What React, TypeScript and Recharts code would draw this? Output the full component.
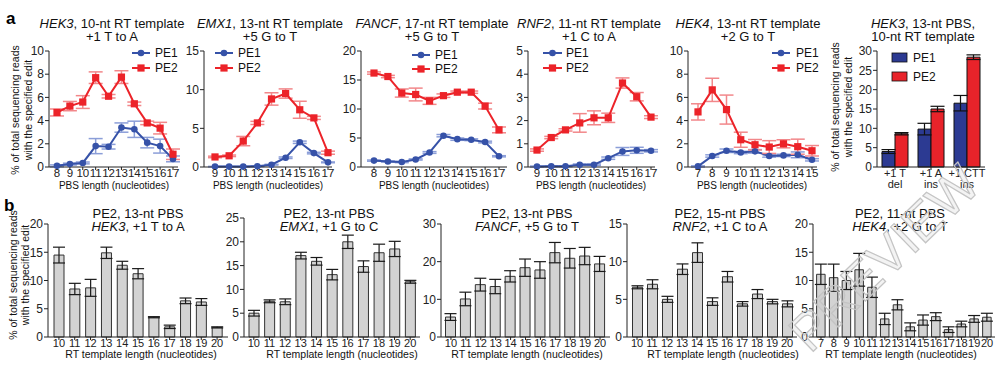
import React from 'react';
import { LineChart, Line, BarChart, Bar, XAxis, YAxis, ErrorBar } from 'recharts';

const FONT = '"Liberation Sans", Arial, Helvetica, sans-serif';
const AX = '#222';
const BLUE = '#3652a8';
const RED = '#ec2329';
const BLUE_ERR = '#8b9ed8';
const RED_ERR = '#f2878a';
const BLUE_BAR = '#2c3a92';
const RED_BAR = '#e8232a';
const GREY = '#d3d3d3';

// ---------- Panel a: PBS length series ----------
const hek3PBS = [8, 9, 10, 11, 12, 13, 14, 15, 16, 17];
const hek3PE1 = [0.1, 0.25, 0.35, 1.8, 1.75, 3.4, 3.25, 2.1, 1.8, 0.7];
const hek3PE1Err = [0.08, 0.08, 0.08, 0.65, 0.2, 0.4, 0.7, 0.45, 0.6, 0.25];
const hek3PE2 = [4.7, 5.25, 5.6, 7.7, 6.1, 7.75, 5.45, 3.8, 3.35, 1.1];
const hek3PE2Err = [0.3, 0.4, 0.55, 0.5, 0.15, 0.55, 0.15, 0.15, 0.5, 0.45];

const emx1PBS = [9, 10, 11, 12, 13, 14, 15, 16, 17];
const emx1PE1 = [0.05, 0.05, 0.05, 0.1, 0.3, 1.2, 3.2, 1.8, 0.6];
const emx1PE1Err = [0.03, 0.03, 0.03, 0.05, 0.05, 0.1, 0.15, 0.1, 0.05];
const emx1PE2 = [1.3, 1.45, 3.35, 5.7, 8.8, 9.5, 7.4, 6.35, 1.85];
const emx1PE2Err = [0.1, 0.1, 0.6, 0.2, 0.8, 0.6, 1.1, 0.2, 0.2];

const fancfPBS = [8, 9, 10, 11, 12, 13, 14, 15, 16, 17];
const fancfPE1 = [1.1, 0.95, 0.85, 1.3, 2.5, 5.4, 4.8, 4.7, 4.3, 1.85];
const fancfPE1Err = [0.1, 0.1, 0.1, 0.1, 0.15, 0.2, 0.2, 0.15, 0.15, 0.1];
const fancfPE2 = [16.2, 15.6, 12.75, 12.5, 11.4, 12.3, 12.9, 12.9, 10.5, 6.4];
const fancfPE2Err = [0.2, 0.2, 0.7, 1.1, 0.6, 0.3, 0.2, 0.2, 0.5, 0.5];

const rnf2PBS = [9, 10, 11, 12, 13, 14, 15, 16, 17];
const rnf2PE1 = [0.02, 0.03, 0.03, 0.1, 0.1, 0.38, 0.67, 0.72, 0.7];
const rnf2PE1Err = [0.02, 0.02, 0.02, 0.03, 0.03, 0.05, 0.17, 0.13, 0.05];
const rnf2PE2 = [0.73, 1.27, 1.6, 1.9, 2.12, 2.12, 3.62, 3.03, 2.15];
const rnf2PE2Err = [0.05, 0.05, 0.05, 0.4, 0.3, 0.2, 0.22, 0.18, 0.06];

const hek4PBS = [7, 8, 9, 10, 11, 12, 13, 14, 15];
const hek4PE1 = [0.05, 0.95, 1.4, 1.25, 1.35, 0.95, 1.0, 1.05, 0.62];
const hek4PE1Err = [0.05, 0.1, 0.15, 0.1, 0.15, 0.1, 0.1, 0.25, 0.1];
const hek4PE2 = [4.75, 6.65, 4.95, 2.35, 1.92, 1.72, 2.0, 1.75, 1.4];
const hek4PE2Err = [0.7, 1.0, 1.25, 0.65, 0.45, 0.55, 0.35, 0.65, 0.45];

// ---------- Panel a: insertion / deletion bars ----------
const indelLine1 = ['+1 T', '+1 A', '+1 CTT'];
const indelLine2 = ['del', 'ins', 'ins'];
const indelPE1 = [4.0, 9.8, 16.5];
const indelPE1Err = [0.5, 1.5, 2.0];
const indelPE2 = [8.6, 15.0, 28.4];
const indelPE2Err = [0.3, 0.7, 0.6];

// ---------- Panel b: RT template length ----------
const rt10to20 = [10, 11, 12, 13, 14, 15, 16, 17, 18, 19, 20];
const bHek3 = [14.5, 8.5, 8.7, 14.9, 12.7, 11.2, 3.5, 1.8, 6.4, 6.2, 1.7];
const bHek3Err = [1.4, 1.0, 1.5, 1.0, 0.7, 0.9, 0.1, 0.3, 0.5, 0.6, 0.1];
const bEmx1 = [5.0, 7.5, 7.4, 17.1, 15.9, 13.1, 20.0, 14.8, 17.7, 18.5, 11.6];
const bEmx1Err = [0.6, 0.3, 0.6, 0.7, 0.8, 1.1, 1.4, 1.2, 1.8, 1.6, 0.3];
const bFancf = [5.3, 10.1, 13.9, 13.4, 16.1, 18.4, 17.8, 22.4, 20.9, 21.5, 19.4];
const bFancfErr = [0.9, 1.8, 1.7, 1.9, 1.5, 2.3, 2.2, 2.7, 2.6, 2.3, 2.0];
const bRnf2 = [6.6, 7.0, 5.0, 9.0, 11.2, 4.7, 8.0, 4.4, 5.7, 4.7, 4.4];
const bRnf2Err = [0.2, 0.6, 0.4, 0.7, 1.3, 0.5, 0.7, 0.3, 0.6, 0.3, 0.4];
const rt7to20 = [7, 8, 9, 10, 11, 12, 13, 14, 15, 16, 17, 18, 19, 20];
const bHek4 = [11.1, 10.5, 10.0, 11.9, 8.8, 3.2, 5.7, 1.8, 3.0, 3.6, 1.3, 2.3, 3.2, 3.5];
const bHek4Err = [1.8, 2.4, 1.6, 2.9, 1.8, 1.0, 0.9, 0.7, 0.9, 0.7, 0.5, 0.5, 0.6, 0.7];

function lineRows(xs: number[], p1: number[], e1: number[], p2: number[], e2: number[]) {
  return xs.map((x, i) => ({ x: String(x), pe1: p1[i], pe1Err: e1[i], pe2: p2[i], pe2Err: e2[i] }));
}
function barRows(xs: number[], v: number[], e: number[]) {
  return xs.map((x, i) => ({ x: String(x), v: v[i], err: e[i] }));
}
const indelRows = indelLine1.map((l, i) => ({
  x: l + '\n' + indelLine2[i],
  pe1: indelPE1[i],
  pe1Err: indelPE1Err[i],
  pe2: indelPE2[i],
  pe2Err: indelPE2Err[i],
}));

const circleDot = (p: any) => {
  if (p.cx == null || p.cy == null) return <g key={'c' + p.index} />;
  return <circle key={'c' + p.index} cx={p.cx} cy={p.cy} r={3.3} fill={BLUE} />;
};
const squareDot = (p: any) => {
  if (p.cx == null || p.cy == null) return <g key={'s' + p.index} />;
  return <rect key={'s' + p.index} x={p.cx - 3.6} y={p.cy - 3.6} width={7.2} height={7.2} fill={RED} />;
};

const axisProps = {
  axisLine: { stroke: AX, strokeWidth: 1 },
  tickLine: { stroke: AX, strokeWidth: 1 },
};
const yTickStyle = { fontSize: 12, fill: AX, fontFamily: FONT };
const xTickTop = { fontSize: 11.5, fill: AX, fontFamily: FONT };
const xTickBottom = { fontSize: 11, fill: AX, fontFamily: FONT };

type LP = { px: number; py: number; pw: number; ph: number; padL: number; padR: number; yMax: number; yTicks: number[]; data: any[] };
function LinePanel({ px, py, pw, ph, padL, padR, yMax, yTicks, data }: LP) {
  return (
    <div style={{ position: 'absolute', left: px - 40, top: py - 10 }}>
      <LineChart width={pw + 50} height={ph + 40} data={data} margin={{ top: 10, right: 10, left: 0, bottom: 0 }}>
        <XAxis dataKey="x" interval={0} padding={{ left: padL, right: padR }} height={30} tickSize={3} tickMargin={-1} tick={xTickTop} {...axisProps} />
        <YAxis type="number" domain={[0, yMax]} ticks={yTicks} interval={0} width={40} tickSize={4} tickMargin={1} tick={yTickStyle} {...axisProps} />
        <Line dataKey="pe1" stroke={BLUE} strokeWidth={2} dot={circleDot} activeDot={false} isAnimationActive={false}>
          <ErrorBar dataKey="pe1Err" width={7} stroke={BLUE_ERR} strokeWidth={1.5} direction="y" isAnimationActive={false} />
        </Line>
        <Line dataKey="pe2" stroke={RED} strokeWidth={2} dot={squareDot} activeDot={false} isAnimationActive={false}>
          <ErrorBar dataKey="pe2Err" width={7} stroke={RED_ERR} strokeWidth={1.5} direction="y" isAnimationActive={false} />
        </Line>
      </LineChart>
    </div>
  );
}

type BP = { px: number; py: number; pw: number; ph: number; pad: number; yMax: number; yTicks: number[]; data: any[]; barSize: number };
function BarPanel({ px, py, pw, ph, pad, yMax, yTicks, data, barSize }: BP) {
  return (
    <div style={{ position: 'absolute', left: px - 40, top: py - 10 }}>
      <BarChart width={pw + 50} height={ph + 40} data={data} margin={{ top: 10, right: 10, left: 0, bottom: 0 }} barCategoryGap={0}>
        <XAxis dataKey="x" interval={0} padding={{ left: pad, right: pad }} height={30} tickSize={3} tickMargin={-1} tick={xTickBottom} {...axisProps} />
        <YAxis type="number" domain={[0, yMax]} ticks={yTicks} interval={0} width={40} tickSize={4} tickMargin={1} tick={yTickStyle} {...axisProps} />
        <Bar dataKey="v" fill={GREY} stroke="#333" strokeWidth={1} barSize={barSize} isAnimationActive={false}>
          <ErrorBar dataKey="err" width={6} stroke="#1a1a1a" strokeWidth={1.2} direction="y" isAnimationActive={false} />
        </Bar>
      </BarChart>
    </div>
  );
}

const GroupTick = (p: any) => {
  const [l1, l2] = String(p.payload.value).split('\n');
  return (
    <g transform={`translate(${p.x},${p.y})`}>
      <text textAnchor="middle" fontSize={11} fill={AX} fontFamily={FONT}>
        <tspan x={0} dy={7}>{l1}</tspan>
        <tspan x={0} dy={10.5}>{l2}</tspan>
      </text>
    </g>
  );
};

function IndelPanel() {
  const px = 877, py = 51, pw = 108, ph = 116;
  return (
    <div style={{ position: 'absolute', left: px - 40, top: py - 10 }}>
      <BarChart width={pw + 50} height={ph + 40} data={indelRows} margin={{ top: 10, right: 10, left: 0, bottom: 0 }} barGap={0}>
        <XAxis dataKey="x" interval={0} height={30} tickSize={3} tickMargin={0} tick={<GroupTick />} {...axisProps} />
        <YAxis type="number" domain={[0, 30]} ticks={[0, 5, 10, 15, 20, 25, 30]} interval={0} width={40} tickSize={4} tickMargin={1} tick={yTickStyle} {...axisProps} />
        <Bar dataKey="pe1" fill={BLUE_BAR} stroke="#111" strokeWidth={1} barSize={13} isAnimationActive={false}>
          <ErrorBar dataKey="pe1Err" width={7} stroke="#111" strokeWidth={1.2} direction="y" isAnimationActive={false} />
        </Bar>
        <Bar dataKey="pe2" fill={RED_BAR} stroke="#111" strokeWidth={1} barSize={13} isAnimationActive={false}>
          <ErrorBar dataKey="pe2Err" width={7} stroke="#111" strokeWidth={1.2} direction="y" isAnimationActive={false} />
        </Bar>
      </BarChart>
    </div>
  );
}

function Title2({ cx, y1, gene, rest1, line2, geneOnLine2 }: { cx: number; y1: number; gene?: string; rest1: string; line2: string; geneOnLine2?: string }) {
  return (
    <g fontFamily={FONT} fontSize={13} fill="#111" textAnchor="middle">
      <text x={cx} y={y1} dominantBaseline="central">
        {gene ? <tspan fontStyle="italic">{gene}</tspan> : null}
        {rest1}
      </text>
      <text x={cx} y={y1 + 13} dominantBaseline="central">
        {geneOnLine2 ? <tspan fontStyle="italic">{geneOnLine2}</tspan> : null}
        {line2}
      </text>
    </g>
  );
}

function YLabel({ x1, x2, cy }: { x1: number; x2: number; cy: number }) {
  return (
    <g fontFamily={FONT} fontSize={10.5} fill="#111" textAnchor="middle">
      <text transform={`translate(${x1},${cy}) rotate(-90)`} dominantBaseline="central">% of total sequencing reads</text>
      <text transform={`translate(${x2},${cy}) rotate(-90)`} dominantBaseline="central">with the specified edit</text>
    </g>
  );
}

function LineLegend({ x1, x2, tx, y1, y2 }: { x1: number; x2: number; tx: number; y1: number; y2: number }) {
  const m = (x1 + x2) / 2;
  return (
    <g fontFamily={FONT} fontSize={12} fill="#111">
      <line x1={x1} x2={x2} y1={y1} y2={y1} stroke={BLUE} strokeWidth={2} />
      <circle cx={m} cy={y1} r={3.3} fill={BLUE} />
      <text x={tx} y={y1} dominantBaseline="central">PE1</text>
      <line x1={x1} x2={x2} y1={y2} y2={y2} stroke={RED} strokeWidth={2} />
      <rect x={m - 3.6} y={y2 - 3.6} width={7.2} height={7.2} fill={RED} />
      <text x={tx} y={y2} dominantBaseline="central">PE2</text>
    </g>
  );
}

function Overlay() {
  return (
    <svg width={1004} height={367} style={{ position: 'absolute', left: 0, top: 0, pointerEvents: 'none' }}>
      <text x={6} y={18} fontFamily={FONT} fontWeight="bold" fontSize={17} dominantBaseline="central" fill="#000">a</text>
      <text x={4} y={205} fontFamily={FONT} fontWeight="bold" fontSize={17} dominantBaseline="central" fill="#000">b</text>

      <Title2 cx={112} y1={23} gene="HEK3" rest1=", 10-nt RT template" line2="+1 T to A" />
      <Title2 cx={270} y1={23} gene="EMX1" rest1=", 13-nt RT template" line2="+5 G to T" />
      <Title2 cx={432} y1={23} gene="FANCF" rest1=", 17-nt RT template" line2="+5 G to T" />
      <Title2 cx={589} y1={23} gene="RNF2" rest1=", 11-nt RT template" line2="+1 C to A" />
      <Title2 cx={748} y1={23} gene="HEK4" rest1=", 13-nt RT template" line2="+2 G to T" />
      <Title2 cx={923} y1={23} gene="HEK3" rest1=", 13-nt PBS," line2="10-nt RT template" />

      <g fontFamily={FONT} fontSize={10} fill="#111" textAnchor="middle">
        <text x={114} y={185.5} dominantBaseline="central">PBS length (nucleotides)</text>
        <text x={268} y={185.5} dominantBaseline="central">PBS length (nucleotides)</text>
        <text x={434} y={185.5} dominantBaseline="central">PBS length (nucleotides)</text>
        <text x={591} y={185.5} dominantBaseline="central">PBS length (nucleotides)</text>
        <text x={752} y={185.5} dominantBaseline="central">PBS length (nucleotides)</text>
      </g>

      <YLabel x1={15} x2={28} cy={110} />
      <YLabel x1={835} x2={848} cy={107} />
      <YLabel x1={13} x2={25} cy={275} />

      <LineLegend x1={132} x2={150} tx={155} y1={53} y2={68} />
      <LineLegend x1={215} x2={233} tx={238} y1={53} y2={68} />
      <LineLegend x1={412} x2={430} tx={435} y1={55} y2={69} />
      <LineLegend x1={543} x2={562} tx={566} y1={53} y2={68} />
      <LineLegend x1={772} x2={790} tx={796} y1={53} y2={68} />

      <g fontFamily={FONT} fontSize={12} fill="#111">
        <rect x={892} y={53} width={15} height={9} fill={BLUE_BAR} stroke="#111" strokeWidth={0.8} />
        <text x={913} y={57.5} dominantBaseline="central">PE1</text>
        <rect x={892} y={72} width={15} height={9} fill={RED_BAR} stroke="#111" strokeWidth={0.8} />
        <text x={913} y={76.5} dominantBaseline="central">PE2</text>
      </g>

      <Title2 cx={138} y1={213} rest1="PE2, 13-nt PBS" geneOnLine2="HEK3" line2=", +1 T to A" />
      <Title2 cx={329} y1={213} rest1="PE2, 13-nt PBS" geneOnLine2="EMX1" line2=", +1 G to C" />
      <Title2 cx={527} y1={213} rest1="PE2, 13-nt PBS" geneOnLine2="FANCF" line2=", +5 G to T" />
      <Title2 cx={720} y1={213} rest1="PE2, 15-nt PBS" geneOnLine2="RNF2" line2=", +1 C to A" />
      <Title2 cx={900} y1={213} rest1="PE2, 11-nt PBS" geneOnLine2="HEK4" line2=", +2 G to T" />

      <g fontFamily={FONT} fontSize={10.5} fill="#111" textAnchor="middle">
        <text x={141} y={354} dominantBaseline="central">RT template length (nucleotides)</text>
        <text x={342} y={354} dominantBaseline="central">RT template length (nucleotides)</text>
        <text x={527} y={354} dominantBaseline="central">RT template length (nucleotides)</text>
        <text x={723} y={354} dominantBaseline="central">RT template length (nucleotides)</text>
        <text x={901} y={354} dominantBaseline="central">RT template length (nucleotides)</text>
      </g>

      <text
        transform="translate(884,258) rotate(-44)"
        textAnchor="middle"
        dominantBaseline="central"
        fontFamily={FONT}
        fontSize={52}
        fill="rgba(190,190,190,0.18)"
        stroke="#c4c4c4"
        strokeWidth={1.2}
      >
        PREVIEW
      </text>
    </svg>
  );
}

export default function App() {
  return (
    <div style={{ position: 'absolute', left: 0, top: 0, width: 1004, height: 367, background: '#fff', overflow: 'hidden', fontFamily: FONT }}>
      <LinePanel px={49} py={51} pw={129} ph={116} padL={8} padR={5} yMax={10} yTicks={[0, 2, 4, 6, 8, 10]} data={lineRows(hek3PBS, hek3PE1, hek3PE1Err, hek3PE2, hek3PE2Err)} />
      <LinePanel px={204} py={51} pw={128} ph={116} padL={11} padR={4} yMax={15} yTicks={[0, 5, 10, 15]} data={lineRows(emx1PBS, emx1PE1, emx1PE1Err, emx1PE2, emx1PE2Err)} />
      <LinePanel px={361} py={51} pw={146} ph={116} padL={13} padR={8} yMax={20} yTicks={[0, 5, 10, 15, 20]} data={lineRows(fancfPBS, fancfPE1, fancfPE1Err, fancfPE2, fancfPE2Err)} />
      <LinePanel px={528} py={51} pw={127} ph={116} padL={9} padR={4} yMax={5} yTicks={[0, 1, 2, 3, 4, 5]} data={lineRows(rnf2PBS, rnf2PE1, rnf2PE1Err, rnf2PE2, rnf2PE2Err)} />
      <LinePanel px={688} py={51} pw={129} ph={116} padL={10} padR={5} yMax={10} yTicks={[0, 2, 4, 6, 8, 10]} data={lineRows(hek4PBS, hek4PE1, hek4PE1Err, hek4PE2, hek4PE2Err)} />
      <IndelPanel />

      <BarPanel px={48} py={224} pw={180} ph={113} pad={3} yMax={20} yTicks={[0, 5, 10, 15, 20]} barSize={10} data={barRows(rt10to20, bHek3, bHek3Err)} />
      <BarPanel px={244} py={218} pw={176} ph={119} pad={2} yMax={25} yTicks={[0, 5, 10, 15, 20, 25]} barSize={10} data={barRows(rt10to20, bEmx1, bEmx1Err)} />
      <BarPanel px={441} py={224} pw={169} ph={113} pad={2.5} yMax={30} yTicks={[0, 10, 20, 30]} barSize={10} data={barRows(rt10to20, bFancf, bFancfErr)} />
      <BarPanel px={627} py={224} pw={170} ph={113} pad={2.5} yMax={15} yTicks={[0, 5, 10, 15]} barSize={10} data={barRows(rt10to20, bRnf2, bRnf2Err)} />
      <BarPanel px={813} py={224} pw={182} ph={113} pad={1.6} yMax={20} yTicks={[0, 5, 10, 15, 20]} barSize={8.5} data={barRows(rt7to20, bHek4, bHek4Err)} />

      <Overlay />
    </div>
  );
}
